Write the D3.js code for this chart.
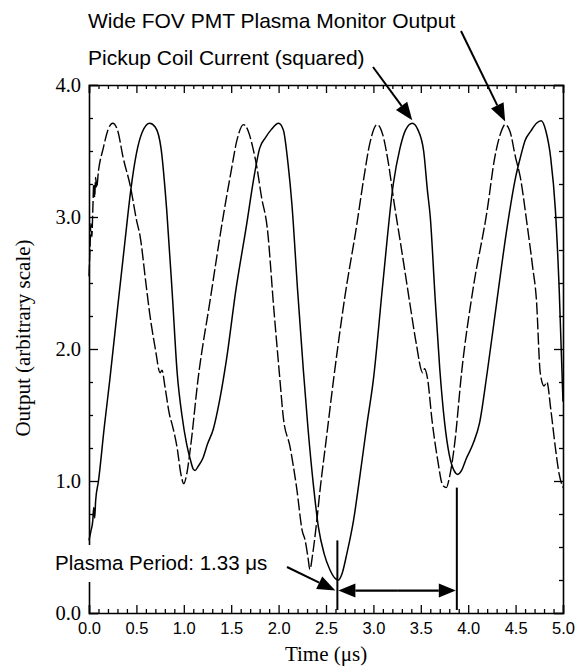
<!DOCTYPE html>
<html><head><meta charset="utf-8">
<script src="https://cdn.jsdelivr.net/npm/d3@7"></script>
<style>
body{margin:0;background:#fff;}
svg{display:block;}
</style></head>
<body>
<svg id="c" width="579" height="668"></svg>
<script>
// ---- data ----
const solidT = [0.00,0.02,0.04,0.05,0.06,0.07,0.10,0.16,0.22,0.30,0.38,0.44,0.50,0.56,0.64,0.70,0.76,0.82,0.88,0.93,0.98,1.03,1.07,1.10,1.12,1.15,1.20,1.25,1.31,1.38,1.45,1.55,1.66,1.74,1.80,1.86,1.92,2.00,2.05,2.10,2.14,2.20,2.26,2.31,2.37,2.42,2.48,2.54,2.60,2.63,2.67,2.72,2.79,2.86,2.93,3.00,3.10,3.21,3.28,3.34,3.41,3.47,3.53,3.57,3.60,3.65,3.70,3.75,3.80,3.85,3.89,3.93,3.98,4.05,4.12,4.20,4.30,4.41,4.50,4.55,4.60,4.66,4.72,4.77,4.82,4.87,4.92,4.96,5.00];
const solidV = [0.55,0.62,0.70,0.80,0.72,0.85,1.00,1.40,1.77,2.30,2.82,3.20,3.48,3.64,3.71,3.68,3.52,3.05,2.40,1.82,1.50,1.28,1.16,1.09,1.08,1.11,1.17,1.28,1.39,1.62,1.92,2.45,2.93,3.30,3.52,3.60,3.66,3.71,3.66,3.40,3.10,2.45,1.85,1.40,0.95,0.65,0.45,0.33,0.26,0.25,0.30,0.45,0.70,1.05,1.42,1.77,2.50,3.25,3.52,3.66,3.71,3.66,3.50,3.20,3.00,2.40,1.85,1.45,1.20,1.08,1.05,1.08,1.17,1.28,1.44,1.82,2.35,2.92,3.30,3.45,3.58,3.65,3.71,3.73,3.65,3.45,3.05,2.45,1.60];
const dashT = [0.00,0.01,0.02,0.03,0.04,0.05,0.06,0.07,0.08,0.10,0.15,0.20,0.25,0.30,0.36,0.44,0.50,0.54,0.60,0.64,0.70,0.75,0.77,0.80,0.85,0.88,0.93,0.97,1.00,1.03,1.07,1.15,1.28,1.41,1.50,1.56,1.63,1.68,1.73,1.77,1.82,1.88,1.95,2.01,2.05,2.12,2.19,2.25,2.28,2.31,2.33,2.36,2.40,2.44,2.50,2.58,2.70,2.82,2.90,2.96,3.04,3.10,3.16,3.22,3.28,3.33,3.39,3.45,3.52,3.54,3.57,3.62,3.68,3.73,3.77,3.80,3.86,3.93,4.05,4.20,4.28,4.34,4.39,4.44,4.50,4.55,4.62,4.68,4.72,4.76,4.80,4.83,4.87,4.92,4.96,5.00];
const dashV = [2.55,2.75,2.95,2.85,3.05,3.25,3.15,3.30,3.22,3.35,3.52,3.66,3.71,3.66,3.45,3.22,2.98,2.85,2.50,2.27,2.00,1.82,1.84,1.72,1.50,1.42,1.25,1.05,0.98,1.05,1.25,1.77,2.38,2.98,3.35,3.58,3.70,3.65,3.52,3.38,3.15,2.92,2.30,1.80,1.48,1.26,0.95,0.62,0.55,0.42,0.33,0.45,0.68,0.95,1.30,1.77,2.40,2.92,3.30,3.55,3.70,3.62,3.40,3.10,2.83,2.60,2.32,2.05,1.82,1.85,1.78,1.45,1.15,0.97,0.95,1.02,1.30,1.82,2.45,3.05,3.45,3.63,3.70,3.65,3.45,3.30,2.95,2.62,2.37,1.82,1.72,1.75,1.55,1.25,1.05,0.95];
const xMajor = [0.0,0.5,1.0,1.5,2.0,2.5,3.0,3.5,4.0,4.5,5.0];
const yMajor = [0.0,1.0,2.0,3.0,4.0];
const periodStart = 2.62, periodEnd = 3.88;
const periodLabel = "Plasma Period: 1.33 \u03bcs";
const label1 = "Wide FOV PMT Plasma Monitor Output";
const label2 = "Pickup Coil Current (squared)";
const xTitle = "Time (\u03bcs)";
const yTitle = "Output (arbitrary scale)";

// ---- layout ----
const L=89, R=563, T=85, B=613;
const svg = d3.select("#c");
const x = d3.scaleLinear().domain([0,5]).range([L,R]);
const y = d3.scaleLinear().domain([0,4]).range([B,T]);
const sans = "'Liberation Sans', Arial, Helvetica, sans-serif";
const serif = "'Liberation Serif', 'Times New Roman', serif";

const xMinor = d3.range(0,51).map(i=>i/10).filter(v=>Math.abs(v*2-Math.round(v*2))>1e-6);
const yMinor = d3.range(0,17).map(i=>i/4).filter(v=>Math.abs(v-Math.round(v))>1e-6);

function styleAxis(g){
  g.selectAll(".domain").attr("stroke","#000").attr("stroke-width",1.6);
  g.selectAll(".tick line").attr("stroke","#000").attr("stroke-width",1.3);
}
// bottom
svg.append("g").attr("transform",`translate(0,${B})`)
  .call(d3.axisBottom(x).tickValues(xMajor).tickSize(-8).tickPadding(9).tickFormat(d3.format(".1f")))
  .call(styleAxis)
  .call(g=>g.selectAll("text").attr("font-family",sans).attr("font-size",16.5).attr("fill","#000"));
svg.append("g").attr("transform",`translate(0,${B})`)
  .call(d3.axisBottom(x).tickValues(xMinor).tickSize(-4).tickFormat(""))
  .call(styleAxis).call(g=>g.select(".domain").remove());
// top
svg.append("g").attr("transform",`translate(0,${T})`)
  .call(d3.axisTop(x).tickValues(xMajor).tickSize(-8).tickFormat(""))
  .call(styleAxis);
svg.append("g").attr("transform",`translate(0,${T})`)
  .call(d3.axisTop(x).tickValues(xMinor).tickSize(-4).tickFormat(""))
  .call(styleAxis).call(g=>g.select(".domain").remove());
// left
svg.append("g").attr("transform",`translate(${L},0)`)
  .call(d3.axisLeft(y).tickValues(yMajor).tickSize(-9).tickPadding(8).tickFormat(d3.format(".1f")))
  .call(styleAxis)
  .call(g=>g.selectAll("text").attr("font-family",serif).attr("font-size",20.5).attr("fill","#000"));
svg.append("g").attr("transform",`translate(${L},0)`)
  .call(d3.axisLeft(y).tickValues(yMinor).tickSize(-4).tickFormat(""))
  .call(styleAxis).call(g=>g.select(".domain").remove());
// right
svg.append("g").attr("transform",`translate(${R},0)`)
  .call(d3.axisRight(y).tickValues(yMajor).tickSize(-9).tickFormat(""))
  .call(styleAxis);
svg.append("g").attr("transform",`translate(${R},0)`)
  .call(d3.axisRight(y).tickValues(yMinor).tickSize(-4).tickFormat(""))
  .call(styleAxis).call(g=>g.select(".domain").remove());

// curves
const line = d3.line().x(d=>x(d[0])).y(d=>y(d[1])).curve(d3.curveMonotoneX);
svg.append("path").datum(solidT.map((t,i)=>[t,solidV[i]]))
  .attr("d",line).attr("fill","none").attr("stroke","#000").attr("stroke-width",1.5);
svg.append("path").datum(dashT.map((t,i)=>[t,dashV[i]]))
  .attr("d",line).attr("fill","none").attr("stroke","#000").attr("stroke-width",1.4)
  .attr("stroke-dasharray","12,3");

// axis titles
svg.append("text").attr("x",x(2.5)).attr("y",661).attr("text-anchor","middle")
  .attr("font-family",serif).attr("font-size",21).text(xTitle);
svg.append("text").attr("transform",`translate(30,${338}) rotate(-90)`).attr("text-anchor","middle")
  .attr("font-family",serif).attr("font-size",21).text(yTitle);

// arrows
function arrow(x0,y0,x1,y1,len=18,hw=7,w=2){
  const a=Math.atan2(y1-y0,x1-x0);
  const bx=x1-len*Math.cos(a), by=y1-len*Math.sin(a);
  svg.append("line").attr("x1",x0).attr("y1",y0).attr("x2",bx).attr("y2",by)
    .attr("stroke","#000").attr("stroke-width",w);
  const px=-Math.sin(a)*hw, py=Math.cos(a)*hw;
  svg.append("path").attr("d",`M${x1},${y1}L${bx+px},${by+py}L${bx-px},${by-py}Z`).attr("fill","#000");
}

// top labels
svg.append("text").attr("x",88).attr("y",28).attr("font-family",sans).attr("font-size",21).text(label1);
svg.append("text").attr("x",88).attr("y",65).attr("font-family",sans).attr("font-size",21).text(label2);
arrow(461,31,x(4.39),y(3.70)-3);
arrow(373,67,x(3.41),y(3.71)-3);

// period markers
svg.append("line").attr("x1",x(periodStart)).attr("x2",x(periodStart)).attr("y1",y(0.55)).attr("y2",y(0)-3)
  .attr("stroke","#000").attr("stroke-width",2);
svg.append("line").attr("x1",x(periodEnd)).attr("x2",x(periodEnd)).attr("y1",y(0.95)).attr("y2",y(0)-3)
  .attr("stroke","#000").attr("stroke-width",2);
const ya=y(0.17);
arrow((x(periodStart)+x(periodEnd))/2,ya,x(periodStart)+1,ya,17,7,2.2);
arrow((x(periodStart)+x(periodEnd))/2,ya,x(periodEnd)-1,ya,17,7,2.2);

// period label with white backing
svg.append("rect").attr("x",50).attr("y",545).attr("width",228).attr("height",37).attr("fill","#fff");
svg.append("text").attr("x",55).attr("y",570).attr("font-family",sans).attr("font-size",20.5).text(periodLabel);
arrow(287,567,x(periodStart)-2,ya,18,7,2);
</script>
</body></html>
